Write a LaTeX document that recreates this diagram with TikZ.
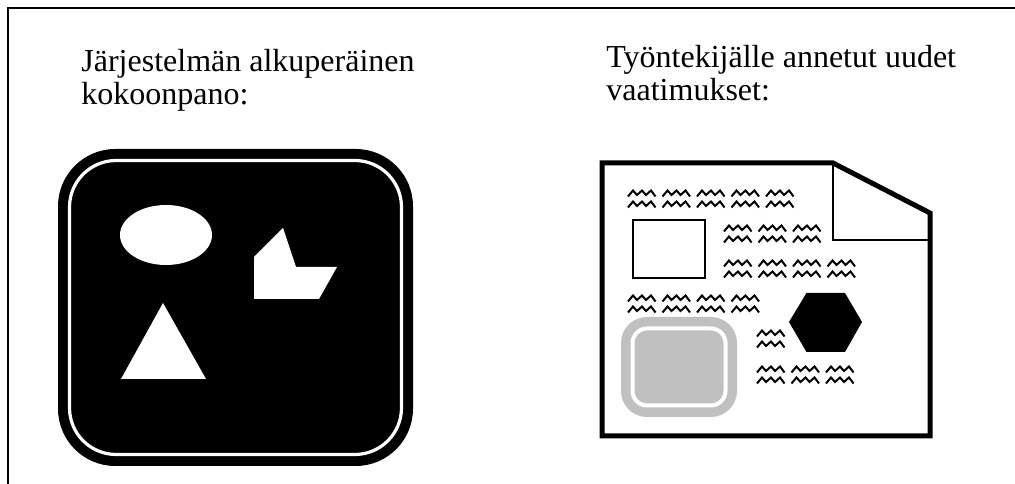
\documentclass[tikz,border=0pt]{standalone}
\usepackage{fontspec}
\setmainfont{Liberation Serif}
\usepackage{tikz}
\definecolor{harmaa}{HTML}{C0C0C0}
\newcommand{\aallot}[3]{%
  \foreach \k in {1,...,#3}{
    \foreach \r in {0,11}{
      \draw[aalto,shift={({#1+34.5*(\k-1)},{#2+\r})}]
        (0,6.5) -- (5,0.5) -- (9,5) -- (14,0.5) -- (18,5) -- (23,0.5) -- (27.5,6.5);
    }
  }}

\begin{document}
\begin{tikzpicture}[x=0.75pt,y=-0.75pt,semithick]
  \tikzstyle{otsikko}=[anchor=north west,align=left,inner sep=0pt,font=\fontsize{24}{25}\selectfont]
  \tikzstyle{aalto}=[line width=1.5pt,line join=miter]
  \useasboundingbox (0,0) rectangle (1015,484);

  % kehys
  \draw[line width=1.1pt] (8,484) -- (8,8) -- (1015,8);

  \node[otsikko] (vanha) at (81,49)  {Järjestelmän alkuperäinen\\kokoonpano:};
  \node[otsikko] (uusi)  at (606,45) {Työntekijälle annetut uudet\\vaatimukset:};

  % alkuperainen jarjestelma
  \fill[rounded corners=43pt] (58,149) rectangle (413,466);
  \draw[white,line width=2.4pt,rounded corners=35pt] (69.5,160.5) rectangle (401.5,454.5);
  \fill[white] (166,235) ellipse [x radius=46,y radius=30];
  \fill[white] (254,257) -- (283,228) -- (296,267) -- (337,267) -- (319,299) -- (254,299) -- cycle;
  \fill[white] (163,303) -- (206,379) -- (121,379) -- cycle;

  % vaatimusdokumentti
  \draw[line width=3.75pt,line join=miter] (602,163) -- (833,163) -- (930,213) -- (930,436) -- (602,436) -- cycle;
  \draw[line width=1.2pt] (833,163) -- (833,240) -- (930,240);
  \draw[line width=1.2pt] (633,220) rectangle (705,278);
  \fill (789,322) -- (806.5,293) -- (845,293) -- (862,322) -- (845,352) -- (806.5,352) -- cycle;
  \fill[harmaa,rounded corners=19.5pt] (621,317) rectangle (737,417);
  \draw[white,line width=3pt,rounded corners=11pt] (632.5,328.5) rectangle (725.5,405.5);

  \aallot{628}{190}{5}
  \aallot{724}{225}{3}
  \aallot{724}{260}{4}
  \aallot{628}{295}{4}
  \aallot{757}{330}{1}
  \aallot{757}{366}{3}
\end{tikzpicture}
\end{document}
